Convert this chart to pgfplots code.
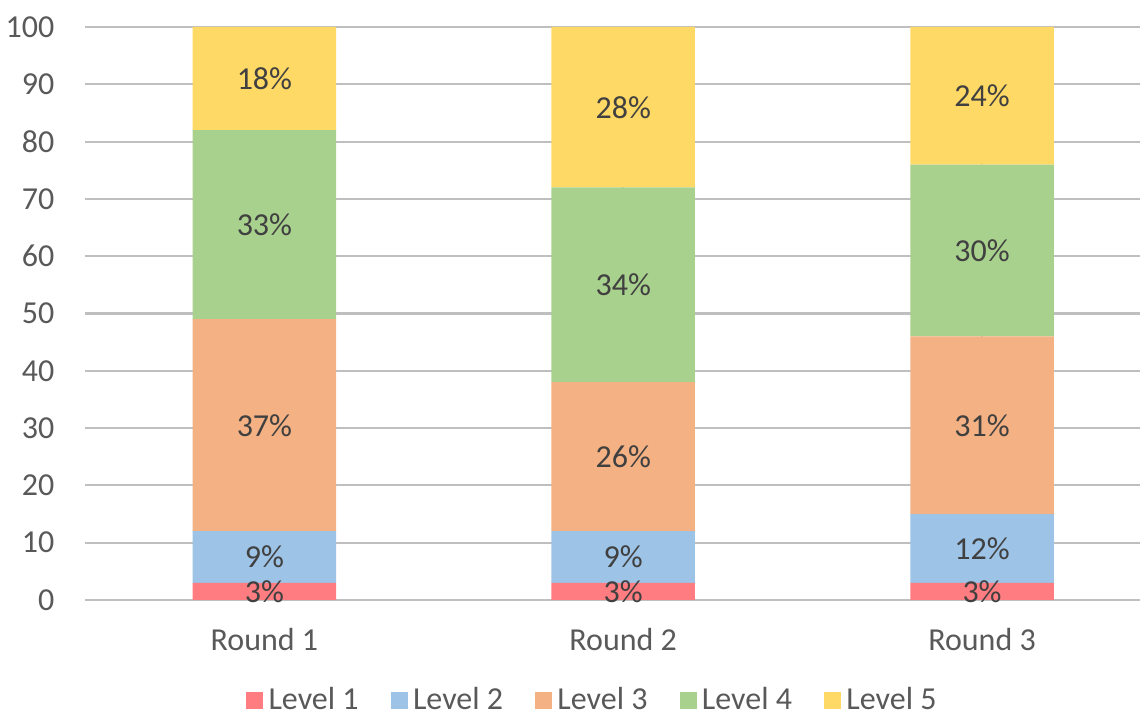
\documentclass[border=0pt]{standalone}
\usepackage{pgfplots}
\pgfplotsset{compat=1.18}
\usepackage{fontspec}
\setmainfont{Carlito}
\definecolor{lv1}{HTML}{FF7C80}
\definecolor{lv2}{HTML}{9DC3E6}
\definecolor{lv3}{HTML}{F4B183}
\definecolor{lv4}{HTML}{A9D18E}
\definecolor{lv5}{HTML}{FFD966}
\definecolor{tick}{HTML}{595959}
\definecolor{lab}{HTML}{404040}
\definecolor{grid}{HTML}{D9D9D9}
\begin{document}
\begin{tikzpicture}
\begin{axis}[
  scale only axis,
  width=395.6pt, height=214.875pt,
  ybar stacked,
  bar width=0.4,
  xmin=-0.5, xmax=2.44,
  ymin=0, ymax=100,
  ytick={0,10,...,100},
  xtick=data,
  xticklabels={Round 1,Round 2,Round 3},
  axis line style={draw=none},
  major tick length=0pt,
  ymajorgrids,
  grid style={grid, line width=0.8pt},
  tick label style={font=\fontsize{12}{14}\selectfont, text=tick},
  /pgf/number format/assume math mode=true,
  yticklabel style={xshift=-8pt},
  xticklabel style={yshift=-7pt},
  point meta=rawy,
  nodes near coords={\pgfmathprintnumber{\pgfplotspointmeta}\%},
  every node near coord/.append style={font=\fontsize{12}{14}\selectfont, text=lab, anchor=center},
  legend columns=5,
  legend style={draw=none, at={(0.4825,-0.175)}, anchor=center, font=\fontsize{12}{14}\selectfont, text=tick, /tikz/every even column/.append style={column sep=10pt}},
  legend image code/.code={\fill[#1] (0pt,-3.2pt) rectangle (6.4pt,3.2pt);},
]
\addplot[fill=lv1, draw=none] coordinates {(0,3) (1,3) (2,3)};
\addplot[fill=lv2, draw=none] coordinates {(0,9) (1,9) (2,12)};
\addplot[fill=lv3, draw=none] coordinates {(0,37) (1,26) (2,31)};
\addplot[fill=lv4, draw=none] coordinates {(0,33) (1,34) (2,30)};
\addplot[fill=lv5, draw=none] coordinates {(0,18) (1,28) (2,24)};
\legend{Level 1,Level 2,Level 3,Level 4,Level 5}
\end{axis}
\pgfresetboundingbox
\path[use as bounding box] (-31.875pt,-43.125pt) rectangle (398.25pt,225pt);
\end{tikzpicture}
\end{document}
